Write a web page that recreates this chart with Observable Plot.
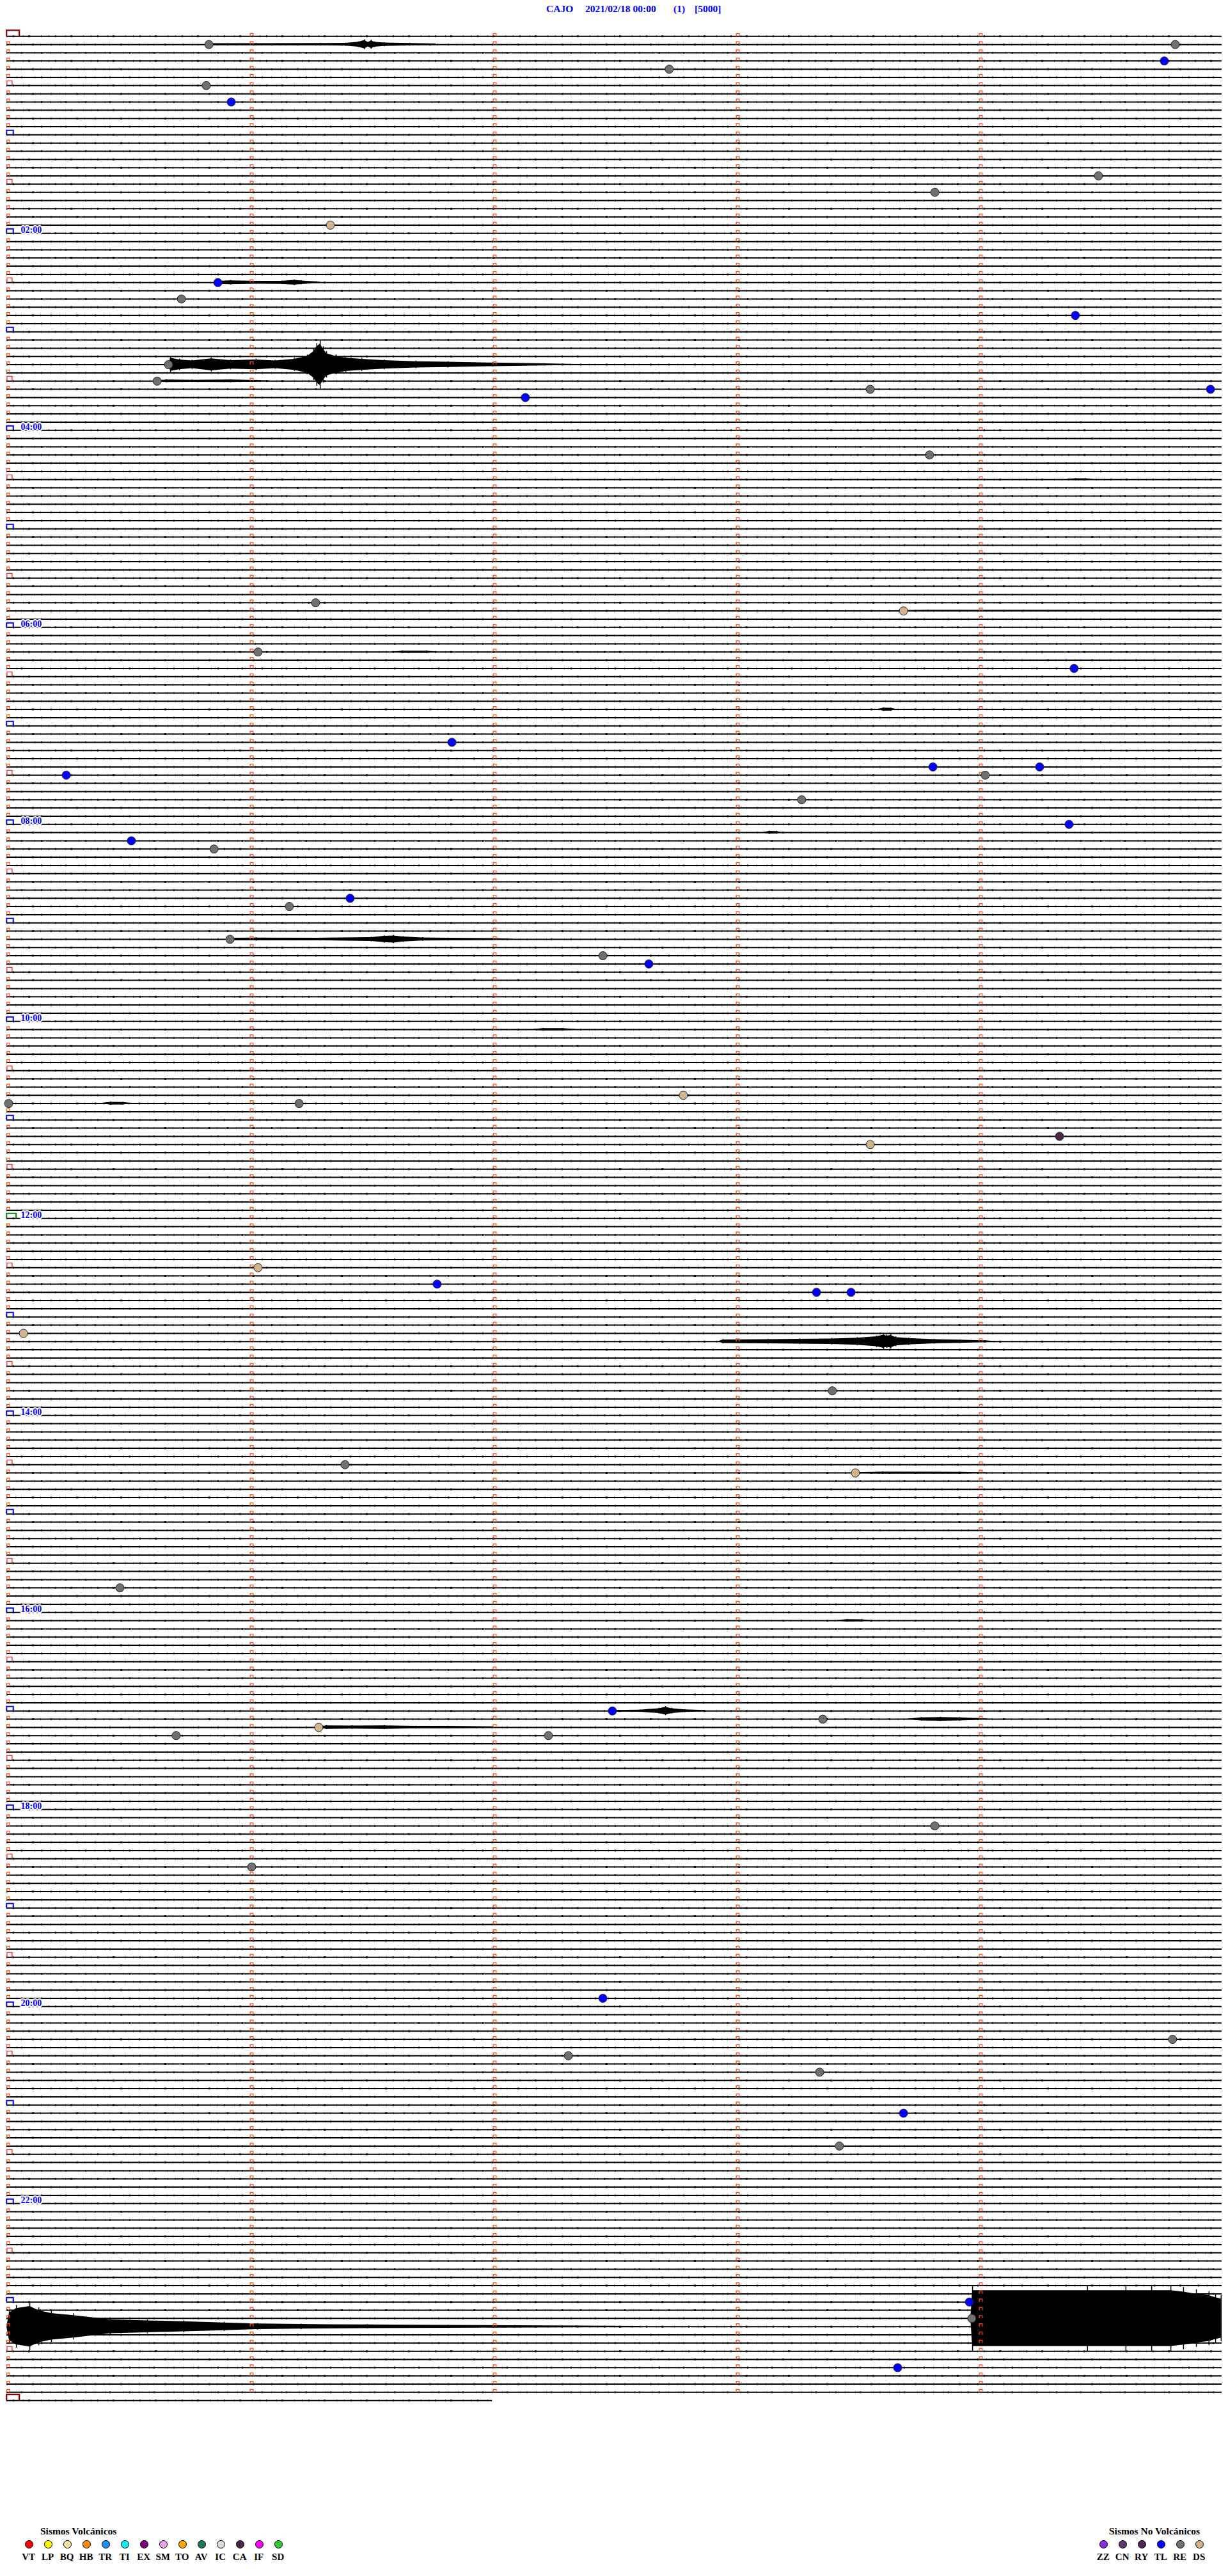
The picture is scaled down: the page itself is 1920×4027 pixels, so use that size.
<!DOCTYPE html>
<html><head><meta charset="utf-8">
<script src="https://cdn.jsdelivr.net/npm/d3@7"></script>
<script src="https://cdn.jsdelivr.net/npm/@observablehq/plot@0.6"></script>
<style>
html,body{margin:0;padding:0;background:#fff;}
body{width:1920px;height:4027px;position:relative;overflow:hidden;font-family:"Liberation Serif","DejaVu Serif",serif;}
#chart{position:absolute;left:0;top:0;}
.ttl{position:absolute;top:5.7px;color:#0000ff;font-weight:bold;font-size:15.5px;line-height:15.5px;white-space:pre;}
.lgt{position:absolute;top:3949px;color:#000;font-weight:bold;font-size:15.5px;line-height:16px;white-space:pre;}
.lgc{position:absolute;width:11px;height:11px;border:1px solid #000;border-radius:50%;top:3970.5px;}
.lgl{position:absolute;top:3989px;color:#000;font-weight:bold;font-size:15px;line-height:16px;transform:translateX(-50%);white-space:pre;}
</style></head><body>
<div id="chart"></div>
<script>
// ---- header ----
const station = "CAJO";
const dateLabel = "2021/02/18 00:00";
const runLabel = "(1)";
const scaleLabel = "[5000]";

// ---- helicorder layout (5-minute lines, 12 per hour, 24 h + 2 min) ----
const minutesPerLine = 5;
const linesPerHour = 12;
const fullLines = 288;
const lastLineMinutes = 2;
const hourLabels = ["02:00","04:00","06:00","08:00","10:00","12:00","14:00","16:00","18:00","20:00","22:00"];

// ---- classified events: line index, minute within line, type ----
const eventLine   = [1,1,4,3,6,8,17,19,23,30,32,34,40,42,44,43,43,51,69,70,75,77,86,89,89,90,90,93,96,98,99,105,106,110,112,113,130,130,129,134,135,150,152,153,153,158,165,174,175,189,204,207,206,207,205,218,223,239,244,246,248,253,257,276,278,284];
const eventMinute = [0.824,4.80,2.718,4.755,0.813,0.916,4.484,3.811,1.324,0.861,0.711,4.389,0.658,0.611,2.126,3.545,4.945,3.789,1.263,3.682,1.026,4.384,1.824,3.803,4.242,4.018,0.237,3.263,4.363,0.505,0.845,1.405,1.155,0.911,2.445,2.634,0.0,1.195,2.776,4.324,3.545,1.026,1.763,3.324,3.466,0.061,3.389,1.384,3.484,0.458,2.484,0.689,1.276,2.221,3.35,3.811,1.0,2.445,4.789,2.303,3.337,3.682,3.418,3.953,3.963,3.658];
const eventType   = ["RE","RE","RE","TL","RE","TL","RE","RE","DS","TL","RE","TL","RE","RE","TL","RE","TL","RE","RE","DS","RE","TL","TL","TL","TL","RE","TL","RE","TL","TL","RE","TL","RE","RE","RE","TL","RE","RE","DS","CA","DS","DS","TL","TL","TL","DS","RE","RE","DS","RE","TL","RE","DS","RE","RE","RE","RE","TL","RE","RE","RE","TL","RE","TL","RE","TL"];

// ---- signal envelopes of the larger traces: [minute, half-amplitude in line spacings] ----
const envLine = [1, 30, 40, 42, 70, 110, 159, 175, 204, 205, 206, 278, 279, 75, 82, 97, 121, 130, 54, 193];
const envShape = [
  [[0.834,0.15],[1.018,0.16],[1.282,0.17],[1.387,0.2],[1.439,0.35],[1.465,0.6],[1.479,0.3],[1.492,0.55],[1.505,0.35],[1.545,0.25],[1.65,0.18],[1.755,0.1]],
  [[0.861,0.22],[0.913,0.28],[1.018,0.2],[1.124,0.22],[1.176,0.35],[1.203,0.25],[1.268,0.12],[1.282,0.05]],
  [[0.658,0.0],[0.666,0.94],[0.703,0.7],[0.755,0.55],[0.834,0.85],[0.913,0.6],[1.018,0.7],[1.097,0.55],[1.176,0.8],[1.229,1.2],[1.255,1.9],[1.268,2.6],[1.282,2.96],[1.295,2.2],[1.308,1.6],[1.347,1.2],[1.387,0.95],[1.453,0.8],[1.545,0.6],[1.676,0.45],[1.808,0.38],[1.992,0.26],[2.203,0.14],[2.334,0.06]],
  [[0.611,0.1],[0.65,0.18],[0.755,0.15],[0.913,0.18],[1.018,0.12],[1.071,0.05]],
  [[3.682,0.08],[3.782,0.13],[4.176,0.13],[4.703,0.13],[4.989,0.12]],
  [[0.911,0.18],[1.018,0.2],[1.282,0.18],[1.492,0.28],[1.545,0.45],[1.584,0.5],[1.624,0.35],[1.703,0.22],[1.808,0.18],[1.992,0.13],[2.071,0.05]],
  [[2.918,0.0],[2.939,0.25],[3.124,0.3],[3.255,0.35],[3.387,0.4],[3.492,0.5],[3.571,0.7],[3.6,0.95],[3.613,0.8],[3.63,0.9],[3.65,0.6],[3.703,0.45],[3.808,0.3],[3.913,0.22],[4.018,0.13],[4.071,0.0]],
  [[3.484,0.08],[3.597,0.14],[3.913,0.12],[4.018,0.05]],
  [[2.484,0.1],[2.597,0.14],[2.676,0.35],[2.703,0.55],[2.729,0.35],[2.782,0.18],[2.861,0.08]],
  [[3.703,0.05],[3.755,0.22],[3.834,0.26],[3.913,0.22],[4.018,0.08]],
  [[1.276,0.12],[1.308,0.25],[1.413,0.22],[1.545,0.25],[1.676,0.18],[1.808,0.17],[1.992,0.1]],
  [[3.958,0.0],[3.966,4.0],[4.439,4.0],[4.597,4.0],[4.703,4.0],[4.782,4.0],[4.834,3.8],[4.887,3.5],[4.939,3.3],[4.966,3.0],[4.989,2.8]],
  [[-0.008,0.0],[0.003,2.0],[0.032,2.6],[0.087,2.9],[0.124,2.3],[0.176,1.9],[0.268,1.6],[0.418,1.0],[0.571,0.85],[0.721,0.72],[0.887,0.55],[1.024,0.4],[1.203,0.33],[1.476,0.26],[1.808,0.2],[2.082,0.16],[2.334,0.12],[2.597,0.06]],
  [[1.587,0.05],[1.62,0.15],[1.72,0.15],[1.755,0.05]],
  [[3.579,0.05],[3.6,0.22],[3.63,0.2],[3.65,0.05]],
  [[3.108,0.05],[3.13,0.2],[3.16,0.18],[3.176,0.05]],
  [[2.161,0.05],[2.2,0.18],[2.28,0.16],[2.329,0.05]],
  [[0.384,0.05],[0.42,0.2],[0.47,0.18],[0.505,0.05]],
  [[4.358,0.05],[4.39,0.15],[4.43,0.14],[4.458,0.05]],
  [[3.411,0.05],[3.45,0.16],[3.51,0.14],[3.545,0.05]]
];

// ---- legend ----
const volcTypes  = ["VT","LP","BQ","HB","TR","TI","EX","SM","TO","AV","IC","CA","IF","SD"];
const volcColors = ["#ff0000","#ffff00","#f3e3a8","#ff8c10","#2090f0","#10f0f0","#800080","#eaa8e8","#ffa500","#1f7a5a","#dcdcdc","#4a2848","#ff00ff","#33cc33"];
const nonVolcTypes  = ["ZZ","CN","RY","TL","RE","DS"];
const nonVolcColors = ["#8a2be2","#5a3a6a","#4e2a4e","#0000ff","#707070","#d2b48c"];

// ---- build tables ----
const lines = d3.range(0, fullLines + 1);
const lineKind = i => i === 0 || i === fullLines ? "day" : i === 144 ? "noon" : i % linesPerHour === 0 ? "hour" : i % linesPerHour === 6 ? "half" : "tick";
const colMarks = [];
for (let i = 0; i < fullLines; i++) for (let m = 1; m < minutesPerLine; m++) colMarks.push({line: i, m});
const events = eventLine.map((l, k) => ({line: l, m: eventMinute[k], type: eventType[k]}));
const env = [];
envLine.forEach((l, k) => envShape[k].forEach(([m, a]) => env.push({id: k, line: l, m, a})));
const hourRows = hourLabels.map((t, k) => ({line: (k + 1) * 2 * linesPerHour, t}));

function bracket(w, h) {
  return {draw(ctx) { ctx.moveTo(-w / 2, 0); ctx.lineTo(-w / 2, -h); ctx.lineTo(w / 2, -h); ctx.lineTo(w / 2, 0); }};
}

const lineEnd = i => i === fullLines ? lastLineMinutes - 0.01 : minutesPerLine - 0.008;
const chart = Plot.plot({
  width: 1920, height: 3800,
  margin: 0,
  x: {domain: [0, minutesPerLine], range: [13, 1913], axis: null},
  y: {domain: [0, fullLines], range: [56.3, 56.3 + 12.833 * fullLines], axis: null},
  color: {type: "ordinal", domain: volcTypes.concat(nonVolcTypes), range: volcColors.concat(nonVolcColors)},
  marks: [
    Plot.ruleY(lines, {y: d => d, x1: -0.008, x2: lineEnd, stroke: "#000", strokeWidth: 2}),
    Plot.ruleY(lines.filter(i => i % 3 === 0), {y: d => d, x1: -0.008, x2: lineEnd, stroke: "#000", strokeWidth: 3, strokeDasharray: "1,9,2,14,1,7,3,17,1,11", strokeOpacity: 0.85}),
    Plot.ruleY(lines.filter(i => i % 3 === 1), {y: d => d, x1: -0.008, x2: lineEnd, stroke: "#000", strokeWidth: 3, strokeDasharray: "2,12,1,8,1,16,3,10,1,15", strokeOpacity: 0.85}),
    Plot.ruleY(lines.filter(i => i % 3 === 2), {y: d => d, x1: -0.008, x2: lineEnd, stroke: "#000", strokeWidth: 3, strokeDasharray: "1,15,1,6,2,19,1,9,2,13", strokeOpacity: 0.85}),
    Plot.area(env, {x1: "m", y1: d => d.line - d.a * 0.85, y2: d => d.line + d.a * 0.85, z: "id", fill: "#000", curve: "linear"}),
    Plot.ruleX(env, {x: "m", y1: d => d.line - d.a, y2: d => d.line + d.a, stroke: "#000", strokeWidth: 1.5}),
    // minute column markers
    Plot.dot(colMarks, {x: "m", y: "line", symbol: bracket(4.7, 4.5), r: 3, fill: "none", stroke: "#ff4a10", strokeWidth: 1.2}),
    // line start markers
    Plot.dot(lines.filter(i => lineKind(i) === "tick"), {x: 0, y: d => d, dx: -0.5, symbol: bracket(4.7, 4.5), r: 3, fill: "none", stroke: "#ff4a10", strokeWidth: 1.2}),
    Plot.dot(lines.filter(i => lineKind(i) === "half"), {x: 0, y: d => d, dx: 1.4, symbol: bracket(8, 7.5), r: 4, fill: "none", stroke: "#ff0000", strokeWidth: 1.1}),
    Plot.dot(lines.filter(i => lineKind(i) === "hour"), {x: 0, y: d => d, dx: 2, symbol: bracket(10.5, 7), r: 5, fill: "none", stroke: "#0000ff", strokeWidth: 2}),
    Plot.dot(lines.filter(i => lineKind(i) === "noon"), {x: 0, y: d => d, dx: 4.2, symbol: bracket(15, 8), r: 6, fill: "none", stroke: "#008000", strokeWidth: 2}),
    Plot.dot(lines.filter(i => lineKind(i) === "day"), {x: 0, y: d => d, dx: 6.7, symbol: bracket(20, 9.5), r: 8, fill: "none", stroke: "#8b0000", strokeWidth: 2.2}),
    // hour labels
    Plot.text(hourRows, {x: 0, y: "line", text: "t", dx: 19, dy: -5.5, textAnchor: "start", fontSize: 14, fontWeight: "bold", fontFamily: "Liberation Serif, serif", fill: "#0000ff", stroke: "#fff", strokeWidth: 4, paintOrder: "stroke"}),
    // events
    Plot.dot(events, {x: "m", y: "line", r: 6.5, fill: "type", stroke: "#222", strokeWidth: 1})
  ]
});
document.getElementById("chart").appendChild(chart);

// ---- header text ----
const hdr = [[station, 854], [dateLabel, 915], [runLabel, 1053], [scaleLabel, 1086]];
hdr.forEach(([t, x]) => { const s = document.createElement("div"); s.className = "ttl"; s.style.left = x + "px"; s.textContent = t; document.body.appendChild(s); });

// ---- legends ----
function legend(title, titleX, types, colors, x0) {
  const tt = document.createElement("div"); tt.className = "lgt"; tt.style.left = titleX + "px"; tt.textContent = title; document.body.appendChild(tt);
  types.forEach((t, k) => {
    const cx = x0 + 30 * k;
    const c = document.createElement("div"); c.className = "lgc"; c.style.left = (cx - 6.5) + "px"; c.style.background = colors[k]; document.body.appendChild(c);
    const l = document.createElement("div"); l.className = "lgl"; l.style.left = (cx - 1) + "px"; l.textContent = t; document.body.appendChild(l);
  });
}
legend("Sismos Volcánicos", 63, volcTypes, volcColors, 45.7);
legend("Sismos No Volcánicos", 1734, nonVolcTypes, nonVolcColors, 1725.7);
</script>
</body></html>
